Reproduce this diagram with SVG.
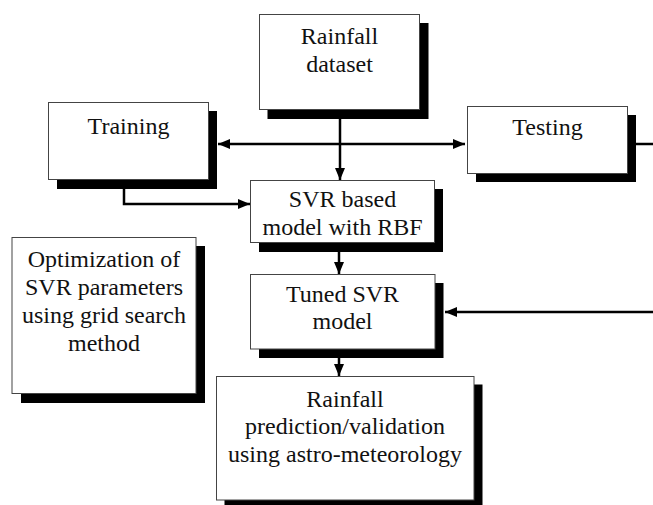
<svg xmlns="http://www.w3.org/2000/svg" width="653" height="505" viewBox="0 0 653 505">
<style>
.box{fill:#fff;stroke:#444;stroke-width:1}
.sh{fill:#000}
.t{font-family:"Liberation Serif","Times New Roman",serif;font-size:24px;fill:#111;text-anchor:middle}
.c{fill:none;stroke:#000;stroke-width:2.5}
</style>
<defs>
<marker id="ah" markerUnits="userSpaceOnUse" markerWidth="12" markerHeight="10" refX="12" refY="5" orient="auto-start-reverse">
<path d="M0,0 L12,5 L0,10 z" fill="#000"/>
</marker>
</defs>
<rect width="653" height="505" fill="#fff"/>
<g id="connectors">
<path class="c" d="M340,110 V180" marker-end="url(#ah)"/>
<path class="c" d="M124,185 V204 H250" marker-end="url(#ah)"/>
<path class="c" d="M218,144 H465" marker-start="url(#ah)" marker-end="url(#ah)"/>
<path class="c" d="M627,144 H653"/>
<path class="c" d="M339,250 V274" marker-end="url(#ah)"/>
<path class="c" d="M339,355 V376" marker-end="url(#ah)"/>
<path class="c" d="M653,312 H445" marker-end="url(#ah)"/>
</g>
<g id="dataset">
<rect class="sh" x="267.5" y="23" width="161" height="96"/>
<rect class="box" x="259.5" y="14.5" width="160" height="95"/>
<text class="t" x="339.5" y="44">Rainfall</text>
<text class="t" x="339.5" y="71.7">dataset</text>
</g>
<g id="training">
<rect class="sh" x="57" y="111" width="160" height="78"/>
<rect class="box" x="48.5" y="102.5" width="160" height="77"/>
<text class="t" x="128.5" y="133.5">Training</text>
</g>
<g id="testing">
<rect class="sh" x="476" y="115" width="160" height="67"/>
<rect class="box" x="467.5" y="106.5" width="160" height="67"/>
<text class="t" x="547.5" y="135">Testing</text>
</g>
<g id="svr">
<rect class="sh" x="259" y="189" width="184" height="63"/>
<rect class="box" x="250.5" y="180.5" width="184" height="62"/>
<text class="t" x="342.5" y="206.7">SVR based</text>
<text class="t" x="342.5" y="234.5">model with RBF</text>
</g>
<g id="optimization">
<rect class="sh" x="21" y="246" width="184" height="157"/>
<rect class="box" x="12" y="237.5" width="184" height="156"/>
<text class="t" x="104" y="267.3">Optimization of</text>
<text class="t" x="104" y="295.3">SVR parameters</text>
<text class="t" x="104" y="323.3">using grid search</text>
<text class="t" x="104" y="351.3">method</text>
</g>
<g id="tuned">
<rect class="sh" x="259" y="283" width="184.5" height="75"/>
<rect class="box" x="250.5" y="274.5" width="184.5" height="74.5"/>
<text class="t" x="342.5" y="301.7">Tuned SVR</text>
<text class="t" x="342.5" y="329.3">model</text>
</g>
<g id="prediction">
<rect class="sh" x="224.5" y="384.5" width="258" height="124"/>
<rect class="box" x="216.5" y="376.5" width="257.5" height="123.5"/>
<text class="t" x="345" y="406.7">Rainfall</text>
<text class="t" x="345" y="434.3">prediction/validation</text>
<text class="t" x="345" y="461.7">using astro-meteorology</text>
</g>
</svg>
